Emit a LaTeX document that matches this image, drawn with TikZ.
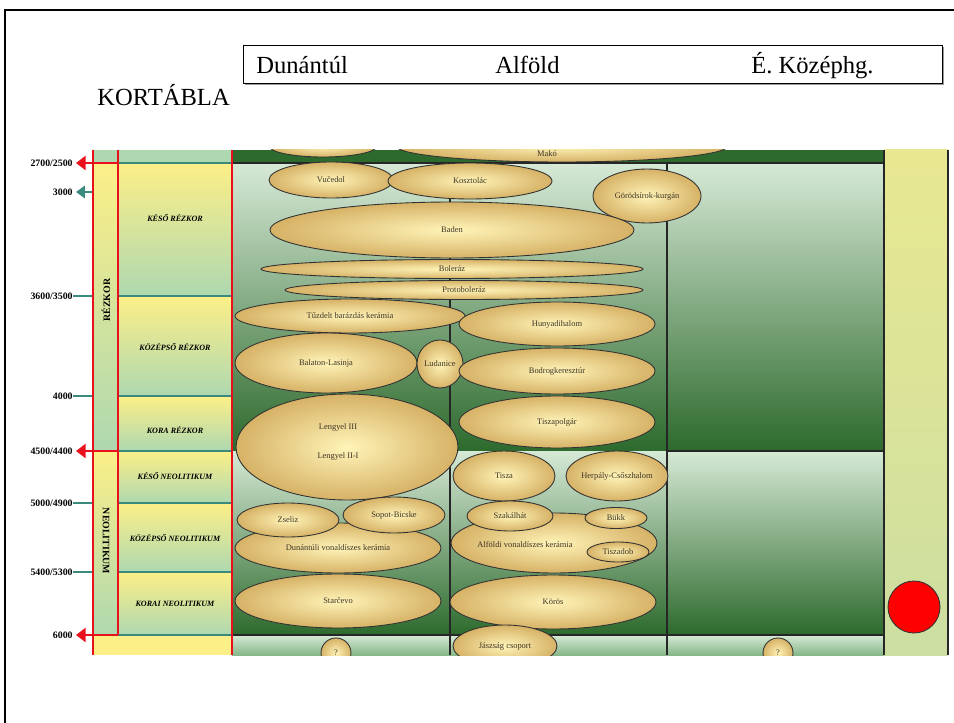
\documentclass[tikz,border=0pt]{standalone}
\usepackage{fontspec}
\setmainfont{Liberation Serif}
\usetikzlibrary{shapes.geometric,arrows.meta}
\definecolor{chartred}{HTML}{E8101A}
\definecolor{tealline}{HTML}{3A8A7E}
\definecolor{darkgreen}{HTML}{2D6A2D}
\definecolor{midgreen}{HTML}{6FA46F}
\definecolor{palegreen}{HTML}{D6E9D6}
\definecolor{cellyellow}{HTML}{FCEF88}
\definecolor{cellgreen}{HTML}{AED8B0}
\definecolor{goldin}{HTML}{FFF4B8}
\definecolor{goldout}{HTML}{D6B266}
\definecolor{blobtext}{HTML}{3E3424}
\definecolor{sidetop}{HTML}{E8E890}
\definecolor{sidebottom}{HTML}{CCDEA2}
\tikzset{
  blob/.style={ellipse, draw=black!80, line width=0.5pt, inner sep=0pt,
    inner color=goldin, outer color=goldout, text=blobtext,
    font=\fontsize{4.8}{5.5}\selectfont},
  bloblabel/.style={text=blobtext, inner sep=0pt, font=\fontsize{4.8}{5.5}\selectfont},
  period/.style={font=\fontsize{4.6}{5}\selectfont\bfseries\itshape},
  era/.style={font=\fontsize{5.6}{6}\selectfont\bfseries},
  year/.style={anchor=east, inner sep=0pt, font=\fontsize{5.6}{6}\selectfont\bfseries},
  head/.style={anchor=base west, inner sep=0pt, font=\fontsize{14}{16}\selectfont},
  redline/.style={chartred, line width=1.4pt},
  tealrule/.style={tealline, line width=1.1pt},
  gridline/.style={black!85, line width=0.7pt},
  cell/.style={top color=cellyellow, bottom color=cellgreen}
}
\begin{document}
\begin{tikzpicture}[x=0.02cm, y=-0.02cm]
\useasboundingbox (0,0) rectangle (954,723);
\draw[line width=1.4pt] (5,723) -- (5,10) -- (954,10);
\draw[black!40, line width=0.8pt] (245,84.5) -- (943.5,84.5) -- (943.5,47);
\draw[fill=white, line width=0.45pt] (243,45) rectangle (942,83);
\node[head] (dunantul) at (256,74) {Dunántúl};
\node[head] (alfold) at (495,74) {Alföld};
\node[head] (kozephg) at (751,74) {É. Középhg.};
\node[head] (kortabla) at (97,106) {KORTÁBLA};

% background of the chart
\fill[cellgreen] (93,150) rectangle (232,163);
\fill[cellyellow] (93,635) rectangle (232,655);
\fill[darkgreen] (232,150) rectangle (884,163);
\shade[top color=palegreen, middle color=midgreen, bottom color=darkgreen] (232,163) rectangle (667,451);
\shade[top color=palegreen, bottom color=darkgreen] (667,163) rectangle (884,451);
\shade[top color=palegreen, bottom color=darkgreen] (232,451) rectangle (884,635);
\shade[top color=palegreen, bottom color=cellgreen!70!darkgreen] (232,635) rectangle (884,655);
\shade[top color=sidetop, bottom color=sidebottom] (884,150) rectangle (948,655);
\shade[cell] (93,163) rectangle (118,451);
\shade[cell] (93,451) rectangle (118,635);
\shade[cell] (118,163) rectangle (232,296);
\shade[cell] (118,296) rectangle (232,396);
\shade[cell] (118,396) rectangle (232,451);
\shade[cell] (118,451) rectangle (232,503);
\shade[cell] (118,503) rectangle (232,572);
\shade[cell] (118,572) rectangle (232,635);

\draw[gridline] (232,163) -- (884,163);
\draw[gridline] (667,451) -- (884,451);
\draw[gridline] (232,635) -- (884,635);
\draw[gridline] (450,163) -- (450,655);
\draw[gridline] (667,163) -- (667,655);
\draw[gridline] (884,150) -- (884,655);
\draw[gridline] (948,150) -- (948,655);

\begin{scope}
\clip (20,150) rectangle (954,655);
\node[blob, minimum width=2.16cm, minimum height=0.44cm] (cut) at (323,146) {};
\node[blob, minimum width=6.64cm, minimum height=0.64cm] (mako) at (562,146) {};
\node[bloblabel] at (547,154) {Makó};
\node[blob, minimum width=2.48cm, minimum height=0.72cm] (vucedol) at (331,180) {Vučedol};
\node[blob, minimum width=3.28cm, minimum height=0.72cm] (kosztolac) at (470,181) {Kosztolác};
\node[blob, minimum width=2.16cm, minimum height=1.08cm] (gorod) at (647,196) {Görödsírok-kurgán};
\node[blob, minimum width=7.28cm, minimum height=1.12cm] (baden) at (452,230) {Baden};
\node[blob, minimum width=7.64cm, minimum height=0.38cm] (boleraz) at (452,269) {Boleráz};
\node[blob, minimum width=7.16cm, minimum height=0.38cm] (protoboleraz) at (464,290) {Protoboleráz};
\node[blob, minimum width=4.60cm, minimum height=0.68cm] (tuzdelt) at (350,316) {Tűzdelt barázdás kerámia};
\node[blob, minimum width=3.64cm, minimum height=1.20cm] (balaton) at (326,363) {Balaton-Lasinja};
\node[blob, minimum width=0.92cm, minimum height=0.96cm] (ludanice) at (440,364) {Ludanice};
\node[blob, minimum width=3.92cm, minimum height=0.88cm] (hunyadi) at (557,324) {Hunyadihalom};
\node[blob, minimum width=3.92cm, minimum height=0.92cm] (bodrog) at (557,371) {Bodrogkeresztúr};
\node[blob, minimum width=3.92cm, minimum height=1.04cm] (tiszapolgar) at (557,422) {Tiszapolgár};
\node[blob, minimum width=4.44cm, minimum height=2.12cm] (lengyel) at (347,447) {};
\node[bloblabel] at (338,427) {Lengyel III};
\node[bloblabel] at (338,456) {Lengyel II-I};
\node[blob, minimum width=2.04cm, minimum height=1.00cm] (tisza) at (504,476) {Tisza};
\node[blob, minimum width=2.04cm, minimum height=1.00cm] (herpaly) at (617,476) {Herpály-Csőszhalom};
\node[blob, minimum width=4.12cm, minimum height=1.00cm] (dunvon) at (338,548) {Dunántúli vonaldíszes kerámia};
\node[blob, minimum width=2.04cm, minimum height=0.68cm] (zseliz) at (288,520) {Zseliz};
\node[blob, minimum width=2.04cm, minimum height=0.72cm] (sopot) at (394,515) {Sopot-Bicske};
\node[blob, minimum width=4.12cm, minimum height=1.08cm] (starcevo) at (338,601) {Starčevo};
\node[blob, minimum width=0.60cm, minimum height=0.60cm] (dunq) at (336,653) {?};
\node[blob, minimum width=4.12cm, minimum height=1.20cm] (alfvon) at (554,543) {};
\node[bloblabel] at (525,545) {Alföldi vonaldíszes kerámia};
\node[blob, minimum width=1.72cm, minimum height=0.60cm] (szakalhat) at (510,516) {Szakálhát};
\node[blob, minimum width=1.24cm, minimum height=0.42cm] (bukk) at (616,518) {Bükk};
\node[blob, minimum width=1.24cm, minimum height=0.40cm] (tiszadob) at (618,552) {Tiszadob};
\node[blob, minimum width=4.12cm, minimum height=1.08cm] (koros) at (553,602) {Körös};
\node[blob, minimum width=2.08cm, minimum height=0.84cm] (jaszsag) at (505,646) {Jászság csoport};
\node[blob, minimum width=0.60cm, minimum height=0.60cm] (eszq) at (778,653) {?};
\end{scope}

\foreach \y in {163,296,396,451,503,572,635}
  \draw[tealrule] (118,\y) -- (232,\y);
\foreach \y in {296,396,503,572}
  \draw[tealrule] (73,\y) -- (93,\y);
\draw[tealrule, -{Triangle[width=7pt,length=5pt]}] (93,192) -- (76,192);
\draw[redline] (93,150) -- (93,655);
\draw[redline] (118,150) -- (118,635);
\draw[redline] (232,150) -- (232,655);
\draw[redline] (93,163) -- (118,163);
\draw[redline] (93,451) -- (118,451);
\draw[redline] (93,635) -- (118,635);
\draw[redline, -{Triangle[width=8pt,length=5.5pt]}] (93,163) -- (76,163);
\draw[redline, -{Triangle[width=8pt,length=5.5pt]}] (93,451) -- (76,451);
\draw[redline, -{Triangle[width=8pt,length=5.5pt]}] (93,635) -- (76,635);

\node[year] (y2700) at (73,163) {2700/2500};
\node[year] (y3000) at (73,192) {3000};
\node[year] (y3600) at (73,296) {3600/3500};
\node[year] (y4000) at (73,396) {4000};
\node[year] (y4500) at (73,451) {4500/4400};
\node[year] (y5000) at (73,503) {5000/4900};
\node[year] (y5400) at (73,572) {5400/5300};
\node[year] (y6000) at (73,635) {6000};

\node[era, rotate=90] (rezkor) at (106,300) {RÉZKOR};
\node[era, rotate=-90] (neolit) at (106,541) {NEOLITIKUM};
\node[period] (kesorez) at (175,218) {KÉSŐ RÉZKOR};
\node[period] (kozrez) at (175,347) {KÖZÉPSŐ RÉZKOR};
\node[period] (korarez) at (175,430) {KORA RÉZKOR};
\node[period] (kesoneo) at (175,476) {KÉSŐ NEOLITIKUM};
\node[period] (kozneo) at (175,538) {KÖZÉPSŐ NEOLITIKUM};
\node[period] (koraineo) at (175,604) {KORAI NEOLITIKUM};

\draw[black!80, line width=0.5pt, fill=red] (914,607) circle (26);
\end{tikzpicture}
\end{document}
